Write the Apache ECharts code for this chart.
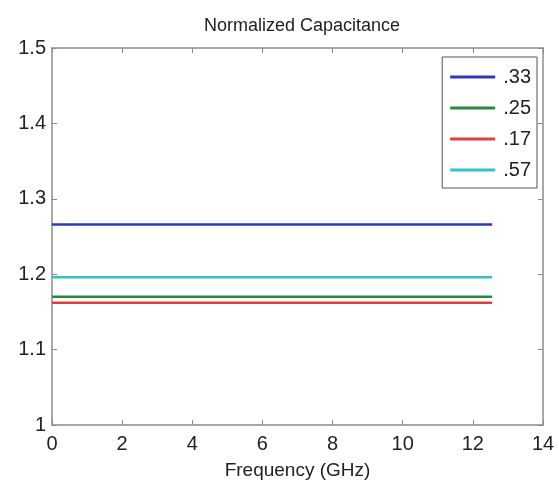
<!DOCTYPE html>
<html>
<head>
<meta charset="utf-8">
<script src="https://cdn.jsdelivr.net/npm/echarts@6/dist/echarts.min.js"></script>
<style>html,body{margin:0;padding:0;background:#fff;}#c{width:559px;height:485px;}</style>
</head>
<body>
<div id="c"></div>
<script>
// Data
var seriesNames = ['.33', '.25', '.17', '.57'];
var freqRange = [0, 12.55];            // GHz, start and end of each trace
var capValues = [1.266, 1.170, 1.162, 1.196];
var seriesColors = ['#2e38bd', '#2a8a3a', '#e0403c', '#30c4c4'];
var xTicks = [0, 2, 4, 6, 8, 10, 12, 14];
var yTicks = [1, 1.1, 1.2, 1.3, 1.4, 1.5];

var chart = echarts.init(document.getElementById('c'), null, {renderer: 'canvas'});
var font = 'Liberation Sans, Arial, sans-serif';
var axisGray = '#8c8c8c';

var series = seriesNames.map(function (n, i) {
  return {
    name: n,
    type: 'line',
    symbol: 'none',
    data: freqRange.map(function (f) { return [f, capValues[i]]; }),
    lineStyle: {color: seriesColors[i], width: 2.5},
    itemStyle: {color: seriesColors[i]},
    xAxisIndex: 0, yAxisIndex: 0,
    animation: false
  };
});

chart.setOption({
  animation: false,
  backgroundColor: '#fff',
  title: {
    text: 'Normalized Capacitance',
    left: 297, top: 12, textAlign: 'center',
    textStyle: {fontFamily: font, fontSize: 18, fontWeight: 'normal', color: '#222'}
  },
  grid: {left: 52, right: 16, top: 48, bottom: 59, containLabel: false},
  legend: {
    orient: 'vertical',
    right: 22, top: 57,
    data: seriesNames,
    icon: 'path://M0,0 L45,0 L45,3 L0,3 Z',
    itemWidth: 45, itemHeight: 3,
    itemGap: 11,
    padding: [10, 6, 8, 8],
    borderColor: '#555', borderWidth: 1,
    backgroundColor: '#fff',
    textStyle: {fontFamily: font, fontSize: 20, color: '#222', padding: [0, 0, 0, 3]}
  },
  xAxis: [{
    type: 'value', min: 0, max: 14, interval: 2,
    position: 'bottom',
    name: 'Frequency (GHz)', nameLocation: 'middle', nameGap: 36,
    nameTextStyle: {fontFamily: font, fontSize: 19, color: '#222'},
    axisLine: {show: true, onZero: false, lineStyle: {color: axisGray, width: 1.5}},
    axisTick: {show: true, inside: true, length: 5, lineStyle: {color: axisGray}},
    axisLabel: {fontFamily: font, fontSize: 20, color: '#222', margin: 9,
      formatter: function (v) { return xTicks.indexOf(v) >= 0 ? String(v) : ''; }},
    splitLine: {show: false}
  }, {
    type: 'value', min: 0, max: 14, interval: 2,
    position: 'top',
    axisLine: {show: true, onZero: false, lineStyle: {color: axisGray, width: 1.5}},
    axisTick: {show: true, inside: true, length: 5, lineStyle: {color: axisGray}},
    axisLabel: {show: false},
    splitLine: {show: false}
  }],
  yAxis: [{
    type: 'value', min: 1, max: 1.5, interval: 0.1,
    position: 'left',
    axisLine: {show: true, onZero: false, lineStyle: {color: axisGray, width: 1.5}},
    axisTick: {show: true, inside: true, length: 5, lineStyle: {color: axisGray}},
    axisLabel: {fontFamily: font, fontSize: 20, color: '#222', margin: 6,
      formatter: function (v) {
        var r = Math.round(v * 10) / 10;
        return yTicks.indexOf(r) >= 0 ? String(r) : '';
      }},
    splitLine: {show: false}
  }, {
    type: 'value', min: 1, max: 1.5, interval: 0.1,
    position: 'right',
    axisLine: {show: true, onZero: false, lineStyle: {color: axisGray, width: 1.5}},
    axisTick: {show: true, inside: true, length: 5, lineStyle: {color: axisGray}},
    axisLabel: {show: false},
    splitLine: {show: false}
  }],
  series: series
});
</script>
</body>
</html>
